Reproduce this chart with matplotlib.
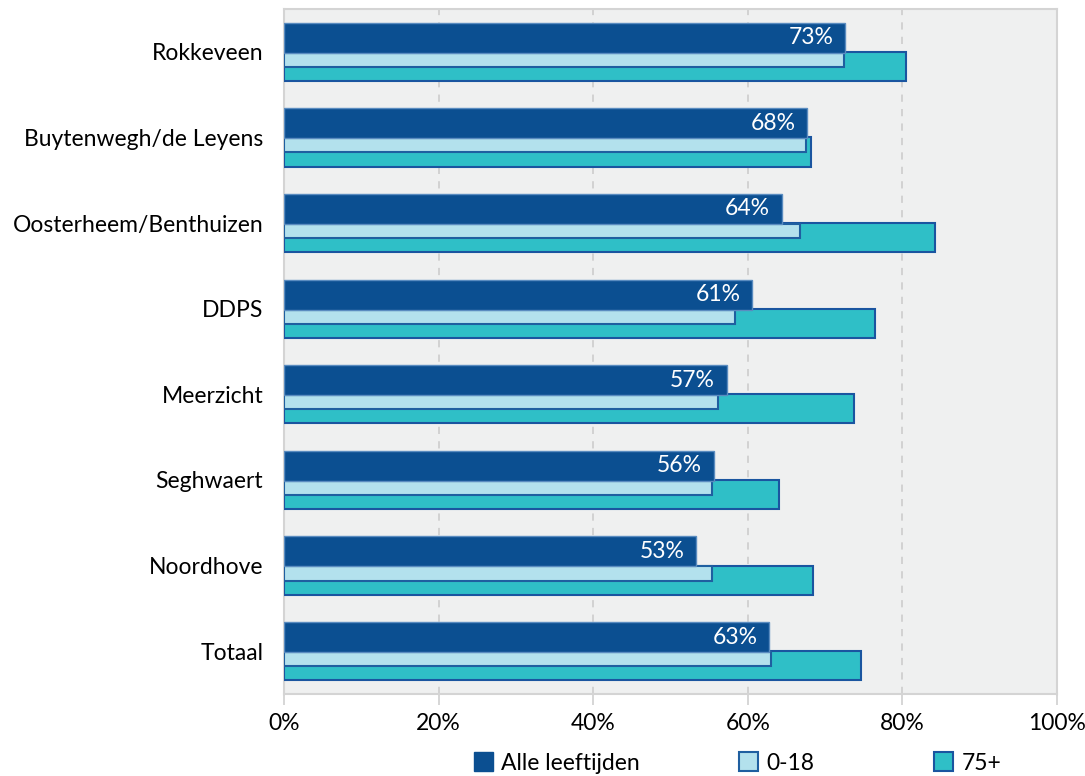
import matplotlib
matplotlib.use("Agg")
import matplotlib.pyplot as plt
from matplotlib.patches import Patch
import numpy as np

plt.rcParams['font.family'] = ['Lato', 'DejaVu Sans']

categories = ["Rokkeveen", "Buytenwegh/de Leyens", "Oosterheem/Benthuizen", "DDPS",
              "Meerzicht", "Seghwaert", "Noordhove", "Totaal"]
alle = [72.6, 67.7, 64.4, 60.6, 57.3, 55.6, 53.3, 62.8]
jong = [72.5, 67.5, 66.7, 58.4, 56.1, 55.4, 55.4, 63.0]
oud = [80.5, 68.2, 84.2, 76.5, 73.7, 64.0, 68.4, 74.6]
series_names = ["Alle leeftijden", "0-18", "75+"]
xticks = [0, 20, 40, 60, 80, 100]

c_dark, e_dark = "#0B4F91", "#5A8CC0"
c_light, e_light = "#B3E1ED", "#1F5FA0"
c_teal, e_teal = "#2FBFC7", "#1A55A0"
bg = "#EFF0F0"
grid_c = "#CFCFCF"

fig = plt.figure(figsize=(10.85, 7.76), dpi=100)
ax = fig.add_axes([284 / 1085, 1 - 694 / 776, (1057 - 284) / 1085, (694 - 9) / 776])
ax.set_facecolor(bg)

y = np.arange(len(categories))
h_dark, h_teal, h_light = 0.35, 0.34, 0.165

ax.barh(y + h_teal / 2, oud, height=h_teal, color=c_teal, edgecolor=e_teal,
        linewidth=1.5, zorder=3)
ax.barh(y + h_light / 2 + 0.01, jong, height=h_light, color=c_light, edgecolor=e_light,
        linewidth=1.5, zorder=4)
bars = ax.barh(y - h_dark / 2 + 0.01, alle, height=h_dark, color=c_dark, edgecolor=e_dark,
               linewidth=1.0, zorder=5)

for rect, v in zip(bars, alle):
    ax.annotate(f"{v:.0f}%", (rect.get_width(), rect.get_y() + rect.get_height() / 2),
                xytext=(-8.5, 0), textcoords="offset points", ha="right", va="center",
                color="white", fontsize=16.5, zorder=6)

ax.set_xlim(0, 100)
ax.set_ylim(len(categories) - 0.5, -0.5)
ax.set_xticks(xticks)
ax.set_xticklabels([f"{t}%" for t in xticks])
ax.set_yticks(y)
ax.set_yticklabels(categories)
ax.tick_params(axis="y", length=0, pad=15, labelsize=16.5)
ax.tick_params(axis="x", length=8, width=1.2, color="#D0D0D0", pad=6, labelsize=16.5)

ax.xaxis.grid(True, linestyle=(0, (4, 4)), color=grid_c, linewidth=1.3, zorder=0)
ax.set_axisbelow(True)
for s in ax.spines.values():
    s.set_color("#D4D4D4")
    s.set_linewidth(1.5)

handles = [Patch(facecolor=c_dark, edgecolor=c_dark, linewidth=1.0),
           Patch(facecolor=c_light, edgecolor=e_light, linewidth=1.5),
           Patch(facecolor=c_teal, edgecolor=e_teal, linewidth=1.5)]
anchors = [474, 739, 934]
for hdl, name, xa in zip(handles, series_names, anchors):
    fig.legend([hdl], [name], loc="center left", bbox_to_anchor=(xa / 1085, 1 - 763 / 776),
               frameon=False, fontsize=16.5, handlelength=0.85, handleheight=0.85,
               handletextpad=0.35, borderpad=0, borderaxespad=0)

fig.savefig("out.png", dpi=100, facecolor="white")
